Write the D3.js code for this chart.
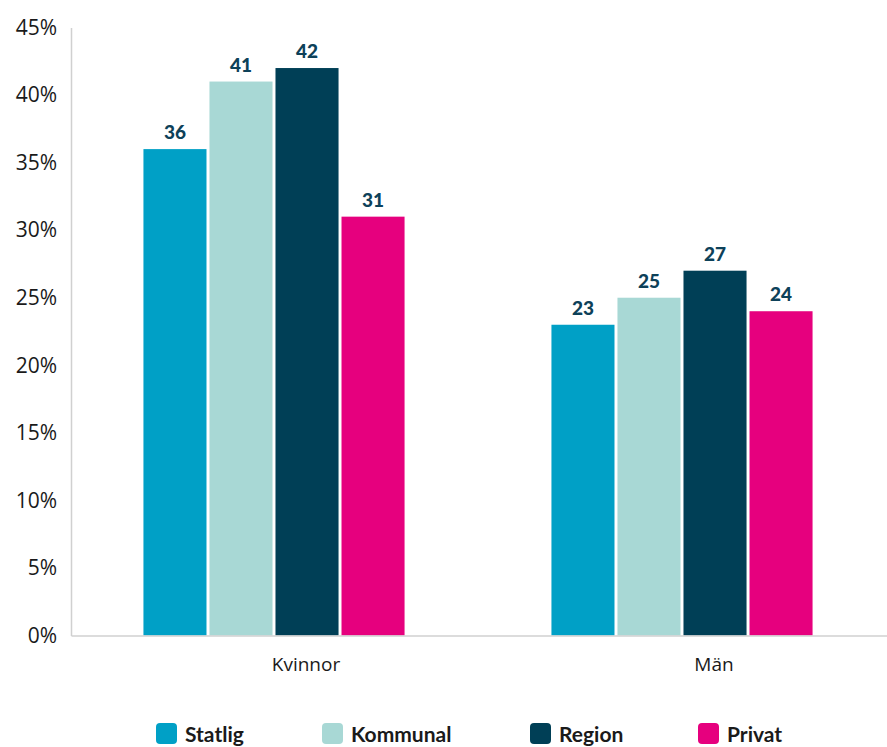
<!DOCTYPE html>
<html><head><meta charset="utf-8">
<script src="https://cdn.jsdelivr.net/npm/d3@7"></script>
<style>body{margin:0;background:#fff;font-family:"Open Sans",Lato,sans-serif;}</style>
</head><body>
<svg id="c" width="887" height="747"></svg>
<script>
const categories = ["Kvinnor", "Män"];
const seriesNames = ["Statlig", "Kommunal", "Region", "Privat"];
const statlig = [36, 23];
const kommunal = [41, 25];
const region = [42, 27];
const privat = [31, 24];
const yTicks = [0, 5, 10, 15, 20, 25, 30, 35, 40, 45];
const colors = ["#00a0c6", "#a8d8d5", "#003f56", "#e6007e"];

const values = [statlig, kommunal, region, privat];
const svg = d3.select("#c");
const m = {l: 71, r: 887, t: 27.5, b: 635.5};
const y = d3.scaleLinear().domain([0, 45]).range([m.b, m.t]);
const x0 = d3.scaleBand().domain(categories).range([m.l, m.r]).paddingInner(0.36).paddingOuter(0.18);
const x1 = d3.scaleBand().domain(seriesNames).range([0, x0.bandwidth()]).paddingInner(0.045);

// y axis
const ya = svg.append("g").attr("transform", `translate(${m.l},0)`)
  .call(d3.axisLeft(y).tickValues(yTicks).tickFormat(d => d + "%").tickSize(0).tickPadding(14));
ya.select(".domain").attr("stroke", "#d0d0d0").attr("stroke-width", 1.5);
ya.selectAll("text").attr("font-size", 21).attr("fill", "#1a1a1a").attr("font-family", "'Open Sans',sans-serif");

// bars
categories.forEach((c, ci) => {
  seriesNames.forEach((s, si) => {
    const v = values[si][ci];
    svg.append("rect")
      .attr("x", x0(c) + x1(s) - 1).attr("width", x1.bandwidth())
      .attr("y", y(v)).attr("height", y(0) - y(v))
      .attr("fill", colors[si]);
    svg.append("text")
      .attr("x", x0(c) + x1(s) - 1 + x1.bandwidth() / 2).attr("y", y(v) - 10)
      .attr("text-anchor", "middle").attr("font-size", 19).attr("font-weight", 900)
      .attr("fill", "#0d4159").attr("font-family", "Lato,sans-serif").text(v);
  });
});

// x axis
const xa = svg.append("g").attr("transform", `translate(0,${m.b})`)
  .call(d3.axisBottom(x0).tickSize(0).tickPadding(22));
xa.select(".domain").attr("stroke", "#d0d0d0").attr("stroke-width", 1.5);
xa.selectAll("text").attr("font-size", 19).attr("fill", "#1a1a1a").attr("font-family", "'Open Sans',sans-serif")
  .attr("dx", 31);

// legend
const legX = [156, 322, 530, 698];
const lg = svg.append("g");
seriesNames.forEach((s, i) => {
  lg.append("rect").attr("x", legX[i]).attr("y", 723).attr("width", 21).attr("height", 21)
    .attr("rx", 4).attr("fill", colors[i]);
  lg.append("text").attr("x", legX[i] + 29).attr("y", 742).attr("font-size", 21)
    .attr("font-weight", 700).attr("fill", "#1a1a1a").attr("font-family", "Lato,sans-serif").text(s);
});
</script>
</body></html>
